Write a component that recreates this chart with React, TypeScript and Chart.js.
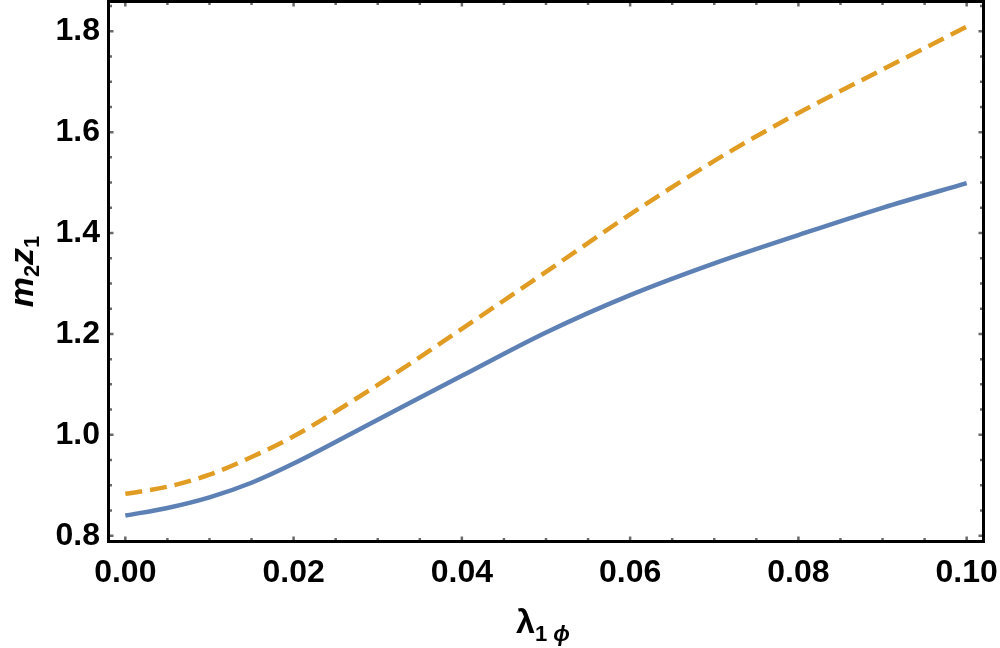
import React, { useEffect, useRef } from 'react';
import { Chart, registerables } from 'chart.js';

Chart.register(...registerables);

// ---- data ----
const lambdaValues = [0, 0.005, 0.01, 0.015, 0.02, 0.03, 0.04, 0.05, 0.06, 0.07, 0.08, 0.09, 0.1];
const solidSeries = [0.840, 0.855, 0.876, 0.905, 0.943, 1.030, 1.117, 1.203, 1.277, 1.340, 1.396, 1.450, 1.499];
const dashedSeries = [0.883, 0.897, 0.921, 0.956, 0.997, 1.099, 1.210, 1.323, 1.437, 1.543, 1.638, 1.724, 1.809];

const xTickLabels = [0, 0.02, 0.04, 0.06, 0.08, 0.1];
const yTickLabels = [0.8, 1.0, 1.2, 1.4, 1.6, 1.8];
const xMinorTicks = [0.005, 0.01, 0.015, 0.025, 0.03, 0.035, 0.045, 0.05, 0.055, 0.065, 0.07, 0.075, 0.085, 0.09, 0.095];
const yMinorTicks = [0.85, 0.9, 0.95, 1.05, 1.1, 1.15, 1.25, 1.3, 1.35, 1.45, 1.5, 1.55, 1.65, 1.7, 1.75, 1.85];

const X_MIN = -0.002;
const X_MAX = 0.102;
const Y_MIN = 0.7885;
const Y_MAX = 1.859;

const FONT = '"Liberation Sans", Arial, Helvetica, sans-serif';
const BLUE = '#5E81B5';
const ORANGE = '#E19C24';

type Part = { text: string; size: number; italic?: boolean; dy?: number };

function drawRich(ctx: CanvasRenderingContext2D, parts: Part[], cx: number, baseline: number) {
  let total = 0;
  const widths: number[] = [];
  for (const p of parts) {
    ctx.font = `${p.italic ? 'italic ' : ''}bold ${p.size}px ${FONT}`;
    const w = ctx.measureText(p.text).width;
    widths.push(w);
    total += w;
  }
  let x = cx - total / 2;
  ctx.textAlign = 'left';
  ctx.textBaseline = 'alphabetic';
  parts.forEach((p, i) => {
    ctx.font = `${p.italic ? 'italic ' : ''}bold ${p.size}px ${FONT}`;
    ctx.fillText(p.text, x, baseline + (p.dy || 0));
    x += widths[i];
  });
}

const framePlugin = {
  id: 'frameTicks',
  afterDraw(chart: any) {
    const { ctx, chartArea, scales } = chart;
    const { left, right, top, bottom } = chartArea;
    const xs = scales.x;
    const ys = scales.y;
    ctx.save();
    ctx.strokeStyle = '#6a6a6a';
    ctx.lineWidth = 2.5;
    ctx.lineCap = 'butt';
    const drawX = (v: number, len: number) => {
      const px = xs.getPixelForValue(v);
      ctx.beginPath();
      ctx.moveTo(px, bottom);
      ctx.lineTo(px, bottom - len);
      ctx.moveTo(px, top);
      ctx.lineTo(px, top + len);
      ctx.stroke();
    };
    const drawY = (v: number, len: number) => {
      const py = ys.getPixelForValue(v);
      ctx.beginPath();
      ctx.moveTo(left, py);
      ctx.lineTo(left + len, py);
      ctx.moveTo(right, py);
      ctx.lineTo(right - len, py);
      ctx.stroke();
    };
    xTickLabels.forEach((v) => drawX(v, 5));
    xMinorTicks.forEach((v) => drawX(v, 3.5));
    yTickLabels.forEach((v) => drawY(v, 5));
    yMinorTicks.forEach((v) => drawY(v, 3.5));
    ctx.strokeStyle = '#000';
    ctx.lineWidth = 3;
    ctx.strokeRect(left, top, right - left, bottom - top);
    ctx.fillStyle = '#000';
    drawRich(
      ctx,
      [
        { text: 'λ', size: 34 },
        { text: '1', size: 22, dy: 8 },
        { text: ' ', size: 22, dy: 8 },
        { text: 'ϕ', size: 22, italic: true, dy: 8 },
      ],
      543,
      633
    );
    ctx.save();
    ctx.translate(33, (top + bottom) / 2);
    ctx.rotate(-Math.PI / 2);
    drawRich(
      ctx,
      [
        { text: 'm', size: 34, italic: true },
        { text: '2', size: 22, dy: 6 },
        { text: 'z', size: 34, italic: true },
        { text: '1', size: 22, dy: 6 },
      ],
      0,
      0
    );
    ctx.restore();
    ctx.restore();
  },
};

export default function App() {
  const ref = useRef<HTMLCanvasElement | null>(null);

  useEffect(() => {
    if (!ref.current) return;
    const chart = new Chart(ref.current, {
      type: 'line',
      data: {
        datasets: [
          {
            label: 'solid',
            data: lambdaValues.map((x, i) => ({ x, y: solidSeries[i] })),
            borderColor: BLUE,
            borderWidth: 4.5,
            pointRadius: 0,
            cubicInterpolationMode: 'monotone',
            fill: false,
          },
          {
            label: 'dashed',
            data: lambdaValues.map((x, i) => ({ x, y: dashedSeries[i] })),
            borderColor: ORANGE,
            borderWidth: 4.5,
            borderDash: [17, 8],
            pointRadius: 0,
            cubicInterpolationMode: 'monotone',
            fill: false,
          },
        ],
      },
      options: {
        animation: false,
        responsive: false,
        layout: { padding: { top: 1.5, right: 16.5, left: 0, bottom: 0 } },
        plugins: {
          legend: { display: false },
          tooltip: { enabled: false },
        },
        scales: {
          x: {
            type: 'linear',
            min: X_MIN,
            max: X_MAX,
            afterBuildTicks: (s: any) => {
              s.ticks = xTickLabels.map((v) => ({ value: v }));
            },
            afterFit: (s: any) => {
              s.height = 106.5;
              s.paddingLeft = 0;
              s.paddingRight = 0;
              s.paddingTop = 0;
              s.paddingBottom = 0;
            },
            grid: { display: false, drawTicks: false },
            border: { display: false },
            ticks: {
              autoSkip: false,
              maxRotation: 0,
              padding: 12,
              color: '#000',
              font: { family: FONT, size: 32, weight: 'bold' },
              callback: (v: any) => Number(v).toFixed(2),
            },
          },
          y: {
            type: 'linear',
            min: Y_MIN,
            max: Y_MAX,
            afterBuildTicks: (s: any) => {
              s.ticks = yTickLabels.map((v) => ({ value: v }));
            },
            afterFit: (s: any) => {
              s.width = 108.5;
              s.paddingLeft = 0;
              s.paddingRight = 0;
              s.paddingTop = 0;
              s.paddingBottom = 0;
            },
            grid: { display: false, drawTicks: false },
            border: { display: false },
            ticks: {
              autoSkip: false,
              padding: 8.5,
              color: '#000',
              font: { family: FONT, size: 32, weight: 'bold' },
              callback: (v: any) => Number(v).toFixed(1),
            },
          },
        },
      } as any,
      plugins: [framePlugin],
    });
    return () => chart.destroy();
  }, []);

  return (
    <div style={{ position: 'absolute', left: 0, top: 0, width: 1000, height: 648, background: '#fff' }}>
      <canvas ref={ref} width={1000} height={648} style={{ display: 'block' }} />
    </div>
  );
}
